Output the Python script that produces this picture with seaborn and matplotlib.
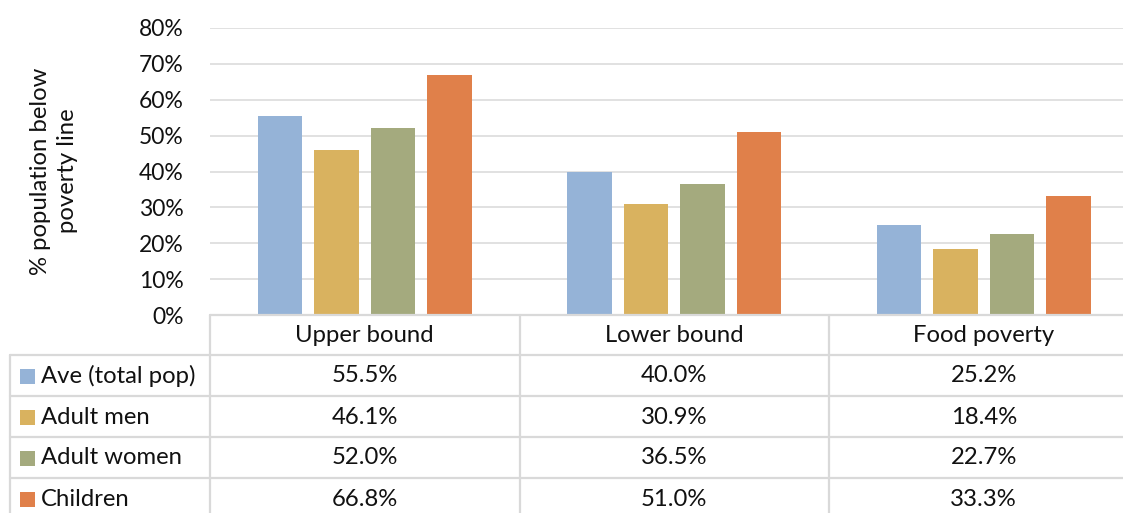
import matplotlib
matplotlib.use("Agg")
import matplotlib.pyplot as plt
from matplotlib.lines import Line2D
from matplotlib.patches import Rectangle
from matplotlib.transforms import blended_transform_factory
import seaborn as sns
import pandas as pd

categories = ["Upper bound", "Lower bound", "Food poverty"]
groups = ["Ave (total pop)", "Adult men", "Adult women", "Children"]
ave_total = [55.5, 40.0, 25.2]
adult_men = [46.1, 30.9, 18.4]
adult_women = [52.0, 36.5, 22.7]
children = [66.8, 51.0, 33.3]
y_ticks = [0, 10, 20, 30, 40, 50, 60, 70, 80]
y_label = "% population below\npoverty line"

colors = ["#95B3D7", "#D9B25F", "#A4AA7E", "#E0804A"]

series = [ave_total, adult_men, adult_women, children]
df = pd.DataFrame(
    [(c, g, vals[i]) for g, vals in zip(groups, series) for i, c in enumerate(categories)],
    columns=["category", "group", "value"],
)

sns.set_theme(style="white")
plt.rcParams["font.family"] = ["Lato", "DejaVu Sans"]
TXT = "#111111"
FS = 16.5
FS_TABLE = 17.2
GRID = "#D9D9D9"

W, H = 1123, 513
fig = plt.figure(figsize=(W / 100, H / 100), dpi=100)
fig.patch.set_facecolor("white")

def fy(y):
    return 1 - y / H

def fx(x):
    return x / W

ax_left, ax_right, ax_top, ax_bottom = 210, 1138.5, 28, 315
ax = fig.add_axes([fx(ax_left), fy(ax_bottom), (ax_right - ax_left) / W, (ax_bottom - ax_top) / H])

sns.barplot(data=df, x="category", y="value", hue="group", hue_order=groups,
            order=categories, palette=colors, saturation=1, width=0.73, gap=0.22,
            linewidth=0, legend=False, ax=ax, zorder=3)

ax.set_xlim(-0.5, len(categories) - 0.5)
ax.set_ylim(0, 80)
ax.set_yticks(y_ticks)
ax.set_yticklabels([f"{t}%" for t in y_ticks], fontsize=FS, color=TXT)
ax.tick_params(axis="y", length=0, pad=19)
ax.set_xticks([])
ax.set_xlabel("")
ax.set_ylabel("")
for s in ax.spines.values():
    s.set_visible(False)
ax.grid(axis="y", color=GRID, linewidth=1.1, zorder=0)
ax.set_axisbelow(True)

fig.text(fx(54), fy(171), y_label, rotation=90, ha="center", va="center",
         fontsize=FS_TABLE, color=TXT, linespacing=1.4)

# data table below the plot
tr = blended_transform_factory(ax.transData, fig.transFigure)
lw = 1.6
row_lines = [355, 396, 437, 478]
table_bottom = H + 5

def hline(x0, x1, y):
    fig.add_artist(Line2D([fx(x0), fx(x1)], [fy(y), fy(y)], color=GRID, lw=lw,
                          transform=fig.transFigure))

def vline_fig(x, y0, y1):
    fig.add_artist(Line2D([fx(x), fx(x)], [fy(y0), fy(y1)], color=GRID, lw=lw,
                          transform=fig.transFigure))

hline(ax_left, W + 10, ax_bottom)
for y in row_lines:
    hline(10, W + 10, y)
vline_fig(10, row_lines[0], table_bottom)
vline_fig(ax_left, ax_bottom, table_bottom)
for xb in [i + 0.5 for i in range(len(categories) - 1)]:
    fig.add_artist(Line2D([xb, xb], [fy(ax_bottom), fy(table_bottom)], color=GRID, lw=lw,
                          transform=tr))

# header row
for i, c in enumerate(categories):
    fig.text(i, fy(336), c, transform=tr, ha="center", va="center", fontsize=FS_TABLE, color=TXT)

row_centers = [376, 417, 458, 499]
for g, vals, col, yc in zip(groups, series, colors, row_centers):
    fig.add_artist(Rectangle((fx(20), fy(yc + 7.5)), 15 / W, 15 / H, facecolor=col,
                             edgecolor="none", transform=fig.transFigure))
    fig.text(fx(41), fy(yc), g, ha="left", va="center", fontsize=FS_TABLE, color=TXT)
    for i, v in enumerate(vals):
        fig.text(i, fy(yc), f"{v:.1f}%", transform=tr, ha="center", va="center",
                 fontsize=FS_TABLE, color=TXT)

fig.savefig("out.png", dpi=100)
